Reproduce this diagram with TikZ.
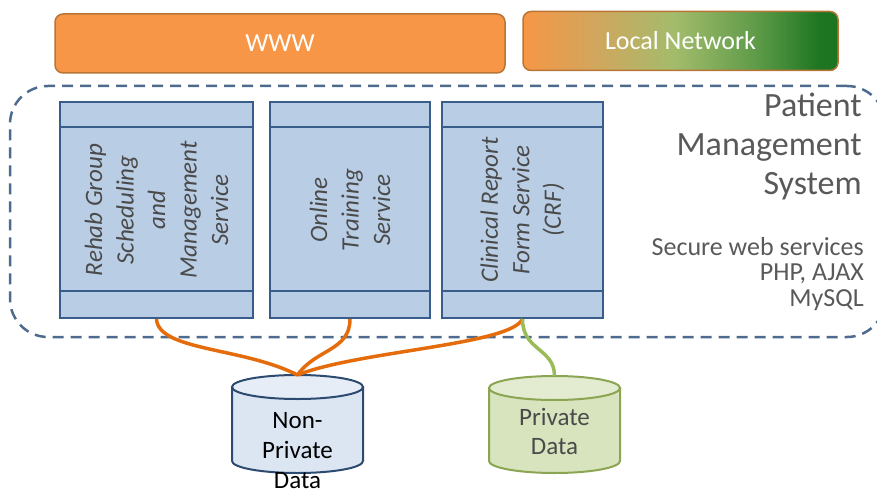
\documentclass[tikz,border=0pt]{standalone}
\usepackage{fontspec}
\setmainfont{Carlito}
\usetikzlibrary{positioning}

\definecolor{wwwfill}{HTML}{F79646}
\definecolor{netedge}{HTML}{B87535}
\definecolor{svcfill}{HTML}{B9CDE5}
\definecolor{svcedge}{HTML}{385D8A}
\definecolor{svctextc}{HTML}{4A4A4A}
\definecolor{pmsedge}{HTML}{4D6A8F}
\definecolor{pmstext}{HTML}{595959}
\definecolor{npfill}{HTML}{DCE6F2}
\definecolor{npedge}{HTML}{2D4B70}
\definecolor{pvfill}{HTML}{D7E4BD}
\definecolor{pvedge}{HTML}{8BA552}
\definecolor{linkorange}{HTML}{E46C0A}
\definecolor{linkgreen}{HTML}{9BBB59}

\pgfdeclarehorizontalshading{lanshade}{100bp}{
  color(0bp)=(wwwfill); color(25bp)=(wwwfill);
  color(37bp)=(rgb,255:red,207;green,167;blue,94);
  color(49bp)=(rgb,255:red,163;green,188;blue,108);
  color(62bp)=(rgb,255:red,94;green,155;blue,72);
  color(72bp)=(rgb,255:red,30;green,118;blue,34);
  color(75bp)=(rgb,255:red,26;green,116;blue,32);
  color(100bp)=(rgb,255:red,26;green,116;blue,32)}

\begin{document}
\begin{tikzpicture}[x=1pt, y=-1pt,
  netbox/.style={draw=netedge, line width=1.5pt, rounded corners=8pt,
                 minimum height=59pt, text=white, font=\fontsize{26}{30}\selectfont},
  service/.style={draw=svcedge, fill=svcfill, line width=2pt,
                  minimum height=216pt, inner sep=0pt},
  svctext/.style={rotate=90, align=center, text=svctextc, inner sep=0pt,
                  font=\fontsize{25}{31.5}\selectfont\itshape},
  dbshape/.style={line width=2pt},
  link/.style={line width=3.5pt, draw=linkorange},
  divider/.style={draw=svcedge, line width=2pt}]

\useasboundingbox (0,0) rectangle (877,489);

% networks on top
\node[netbox, fill=wwwfill, minimum width=450pt] (www) at (280,43.5) {WWW};
\node[netbox, shading=lanshade, minimum width=315pt] (lan) at (680.5,41) {Local Network};

% patient management system
\node[draw=pmsedge, dash pattern=on 11pt off 7pt, line width=2.5pt, rounded corners=38pt,
      minimum width=875pt, minimum height=251pt] (pms) at (447.5,211.5) {};
\node[anchor=north east, align=right, text=pmstext, inner sep=0pt,
      font=\fontsize{34}{39}\selectfont] (pmstitle) at (862,93) {Patient\\Management\\System};
\node[anchor=north east, align=right, text=pmstext, inner sep=0pt,
      font=\fontsize{26}{25.5}\selectfont] (tech) at (864,237) {Secure web services\\PHP, AJAX\\MySQL};

% services
\node[service, minimum width=193pt] (b1) at (156.5,210) {};
\node[service, minimum width=160pt] (b2) at (350,210) {};
\node[service, minimum width=161pt] (b3) at (522.5,210) {};
\foreach \b in {b1,b2,b3} {
  \draw[divider] ([yshift=-26pt]\b.north west) -- ([yshift=-26pt]\b.north east);
  \draw[divider] ([yshift=28pt]\b.south west) -- ([yshift=28pt]\b.south east);
}
\node[svctext] (t1) at (b1) {Rehab Group\\Scheduling\\and\\Management\\Service};
\node[svctext] (t2) at (b2) {Online\\Training\\Service};
\node[svctext] (t3) at (b3) {Clinical Report\\Form Service\\(CRF)};

% data stores
\draw[dbshape, draw=npedge, fill=npfill] (232,387) -- (232,461)
  arc[start angle=180, end angle=0, x radius=65.5, y radius=12] -- (363,387) -- cycle;
\draw[dbshape, draw=npedge, fill=npfill!70!white] (297.5,387) ellipse[x radius=65.5, y radius=12];
\draw[dbshape, draw=pvedge, fill=pvfill] (489,388) -- (489,461)
  arc[start angle=180, end angle=0, x radius=65.5, y radius=12] -- (620,388) -- cycle;
\draw[dbshape, draw=pvedge, fill=pvfill!70!white] (554.5,388) ellipse[x radius=65.5, y radius=12];
\coordinate (npd) at (297.5,375);
\coordinate (pvd) at (554.5,376);
\node[align=center, inner sep=0pt, font=\fontsize{25}{30}\selectfont] (npdtext) at (297.5,451) {Non-\\Private\\Data};
\node[align=center, inner sep=0pt, text=svctextc, font=\fontsize{25}{29}\selectfont] (pvdtext) at (554.5,431) {Private\\Data};

% links
\draw[link] (b1.south) .. controls +(2,32) and +(-55,-28) .. (npd);
\draw[link] (b2.south) .. controls +(0,32) and +(18,-26) .. (npd);
\draw[link] (b3.south) .. controls +(-12,26) and +(60,-24) .. (npd);
\draw[link, draw=linkgreen] (b3.south) .. controls +(0,32) and +(0,-28) .. (pvd);
\end{tikzpicture}
\end{document}
